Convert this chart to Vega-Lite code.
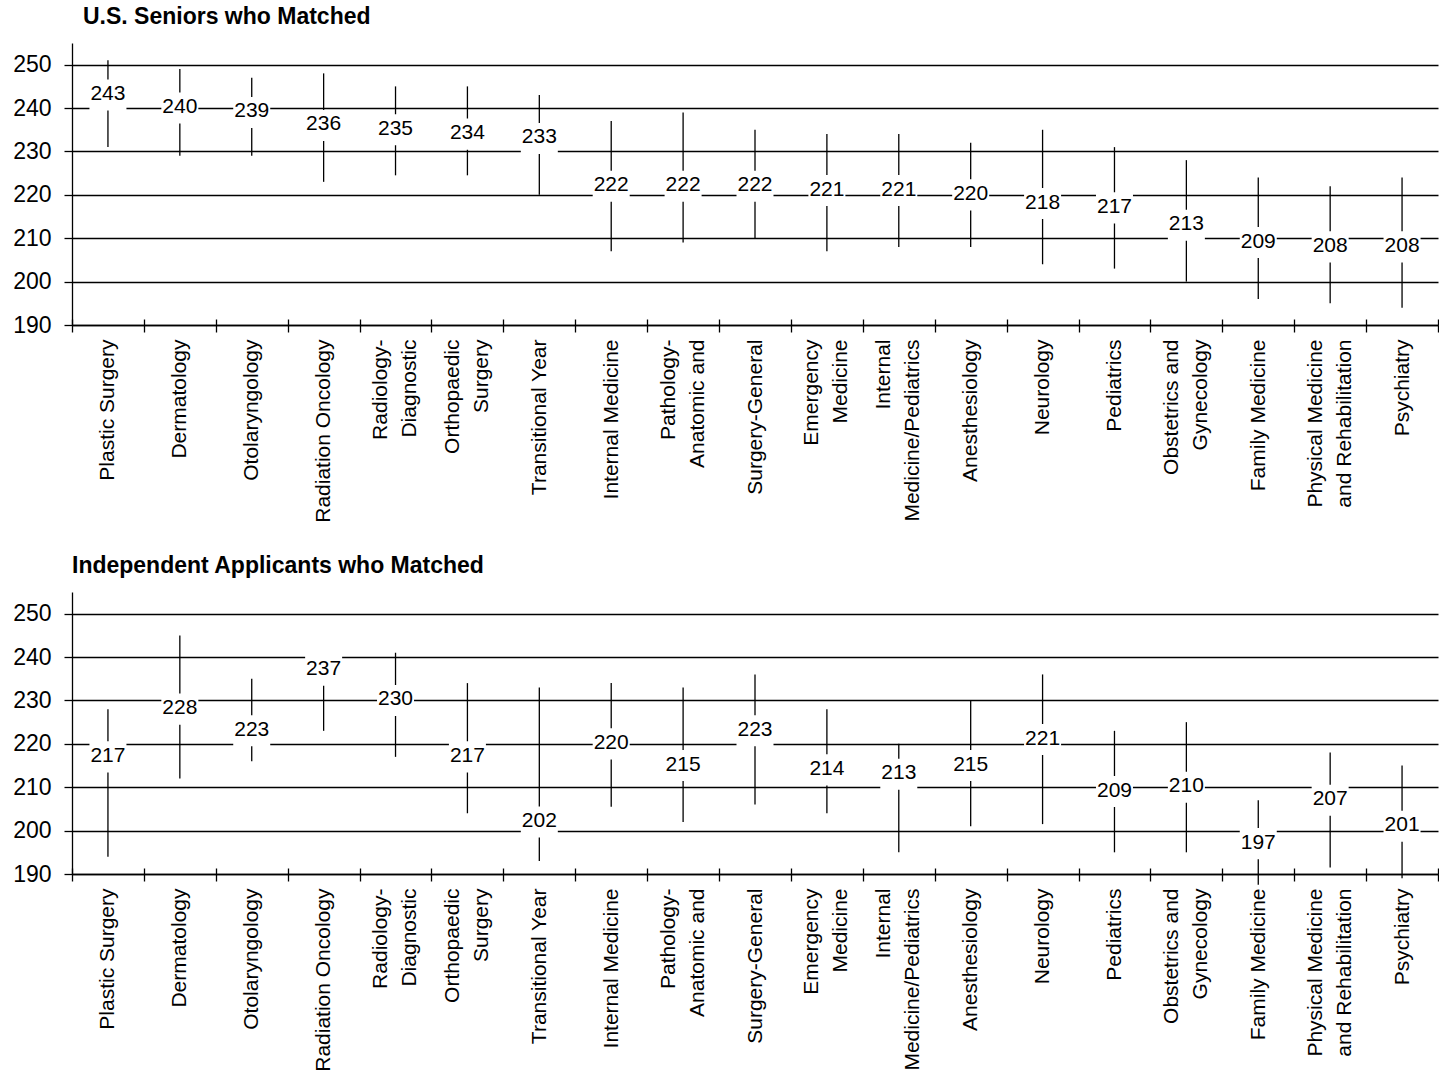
{
  "$schema": "https://vega.github.io/schema/vega-lite/v6.json",
  "padding": {"left": 7, "top": 6, "right": 0, "bottom": 0},
  "background": "white",
  "datasets": {
    "seniors": [
      {"specialty": "Plastic Surgery", "low": 231, "high": 251, "median": 243},
      {"specialty": "Dermatology", "low": 229, "high": 249, "median": 240},
      {"specialty": "Otolaryngology", "low": 229, "high": 247, "median": 239},
      {"specialty": "Radiation Oncology", "low": 223, "high": 248, "median": 236},
      {"specialty": "Radiology-Diagnostic", "low": 224.5, "high": 245, "median": 235},
      {"specialty": "Orthopaedic Surgery", "low": 224.5, "high": 245, "median": 234},
      {"specialty": "Transitional Year", "low": 220, "high": 243, "median": 233},
      {"specialty": "Internal Medicine", "low": 207, "high": 237, "median": 222},
      {"specialty": "Pathology-Anatomic and Clinical", "low": 209, "high": 239, "median": 222},
      {"specialty": "Surgery-General", "low": 210, "high": 235, "median": 222},
      {"specialty": "Emergency Medicine", "low": 207, "high": 234, "median": 221},
      {"specialty": "Internal Medicine/Pediatrics", "low": 208, "high": 234, "median": 221},
      {"specialty": "Anesthesiology", "low": 208, "high": 232, "median": 220},
      {"specialty": "Neurology", "low": 204, "high": 235, "median": 218},
      {"specialty": "Pediatrics", "low": 203, "high": 231, "median": 217},
      {"specialty": "Obstetrics and Gynecology", "low": 200, "high": 228, "median": 213},
      {"specialty": "Family Medicine", "low": 196, "high": 224, "median": 209},
      {"specialty": "Physical Medicine and Rehabilitation", "low": 195, "high": 222, "median": 208},
      {"specialty": "Psychiatry", "low": 194, "high": 224, "median": 208}
    ],
    "independent": [
      {"specialty": "Plastic Surgery", "low": 194, "high": 228, "median": 217},
      {"specialty": "Dermatology", "low": 212, "high": 245, "median": 228},
      {"specialty": "Otolaryngology", "low": 216, "high": 235, "median": 223},
      {"specialty": "Radiation Oncology", "low": 223, "high": 234, "median": 237},
      {"specialty": "Radiology-Diagnostic", "low": 217, "high": 241, "median": 230},
      {"specialty": "Orthopaedic Surgery", "low": 204, "high": 234, "median": 217},
      {"specialty": "Transitional Year", "low": 193, "high": 233, "median": 202},
      {"specialty": "Internal Medicine", "low": 205.5, "high": 234, "median": 220},
      {"specialty": "Pathology-Anatomic and Clinical", "low": 202, "high": 233, "median": 215},
      {"specialty": "Surgery-General", "low": 206, "high": 236, "median": 223},
      {"specialty": "Emergency Medicine", "low": 204, "high": 228, "median": 214},
      {"specialty": "Internal Medicine/Pediatrics", "low": 195, "high": 220, "median": 213},
      {"specialty": "Anesthesiology", "low": 201, "high": 230, "median": 215},
      {"specialty": "Neurology", "low": 201.5, "high": 236, "median": 221},
      {"specialty": "Pediatrics", "low": 195, "high": 223, "median": 209},
      {"specialty": "Obstetrics and Gynecology", "low": 195, "high": 225, "median": 210},
      {"specialty": "Family Medicine", "low": 187.5, "high": 207, "median": 197},
      {"specialty": "Physical Medicine and Rehabilitation", "low": 191.5, "high": 218, "median": 207},
      {"specialty": "Psychiatry", "low": 189, "high": 215, "median": 201}
    ]
  },
  "config": {
    "font": "Liberation Sans",
    "view": {"stroke": null},
    "axis": {
      "domainColor": "#000", "tickColor": "#000", "gridColor": "#000", "labelColor": "#000",
      "domainWidth": 1.3, "tickWidth": 1.3, "gridWidth": 1.3,
      "labelFont": "Liberation Sans"
    },
    "title": {"font": "Liberation Sans", "fontSize": 23, "fontWeight": "bold", "color": "#000", "anchor": "start", "frame": "group", "offset": 14}
  },
  "columns": 1,
  "align": "none",
  "spacing": 32,
  "concat": [
    {
      "width": 1366, "height": 282,
      "title": {"text": "U.S. Seniors who Matched", "dx": 11},
      "data": {"name": "seniors"},
      "resolve": {"axis": {"x": "independent"}},
      "layer": [
        {
          "mark": {"type": "rule", "color": "#000", "strokeWidth": 1.3},
          "encoding": {
            "x": {"field": "specialty", "type": "nominal", "sort": null,
              "scale": {"paddingInner": 0, "paddingOuter": 0},
              "axis": {"title": null, "labelAngle": -90, "labelAlign": "right", "labelBaseline": "middle",
                "labelFontSize": 21, "labelLineHeight": 29, "labelPadding": 7, "labelLimit": 400,
                "labelOverlap": false, "tickSize": 7, "tickBand": "extent", "grid": false,
                "labelExpr": "indexof(['Radiology-Diagnostic','Orthopaedic Surgery','Pathology-Anatomic and Clinical','Emergency Medicine','Internal Medicine/Pediatrics','Obstetrics and Gynecology','Physical Medicine and Rehabilitation'], datum.label) >= 0 ? '' : datum.label"}},
            "y": {"field": "low", "type": "quantitative", "title": null,
              "scale": {"domain": [190, 255], "nice": false, "zero": false},
              "axis": {"title": null, "values": [190, 200, 210, 220, 230, 240, 250], "grid": true,
                "tickSize": 8, "labelPadding": 13, "labelFontSize": 23, "minExtent": 65}},
            "y2": {"field": "high"}
          }
        },
        {
          "mark": {"type": "point", "shape": "M-1,-0.84L1,-0.84L1,0.84L-1,0.84Z", "size": 1369, "filled": true, "fill": "#ffffff", "opacity": 1, "strokeWidth": 0},
          "encoding": {
            "x": {"field": "specialty", "type": "nominal", "sort": null,
              "axis": {"orient": "bottom", "title": null, "labels": false, "domain": false, "grid": false, "tickSize": -6, "tickBand": "extent"}},
            "y": {"field": "median", "type": "quantitative", "title": null,
              "axis": {"title": null, "values": [190, 200, 210, 220, 230, 240, 250], "grid": true,
                "tickSize": 8, "labelPadding": 13, "labelFontSize": 23, "minExtent": 65}}
          }
        },
        {
          "mark": {"type": "text", "fontSize": 21, "color": "#000", "baseline": "middle", "dy": -1},
          "encoding": {
            "x": {"field": "specialty", "type": "nominal", "sort": null,
              "axis": {"orient": "bottom", "title": null, "domain": false, "grid": false, "tickSize": 7, "tickOpacity": 0,
                "labelAngle": -90, "labelAlign": "right", "labelBaseline": "middle", "labelOffset": -14.5,
                "labelFontSize": 21, "labelLineHeight": 29, "labelPadding": 7, "labelLimit": 400, "labelOverlap": false,
                "labelExpr": "({'Radiology-Diagnostic':['Radiology-','Diagnostic'],'Orthopaedic Surgery':['Orthopaedic','Surgery'],'Pathology-Anatomic and Clinical':['Pathology-','Anatomic and'],'Emergency Medicine':['Emergency','Medicine'],'Internal Medicine/Pediatrics':['Internal','Medicine/Pediatrics'],'Obstetrics and Gynecology':['Obstetrics and','Gynecology'],'Physical Medicine and Rehabilitation':['Physical Medicine','and Rehabilitation']})[datum.label] || ''"}},
            "y": {"field": "median", "type": "quantitative", "title": null,
              "axis": {"title": null, "values": [190, 200, 210, 220, 230, 240, 250], "grid": true,
                "tickSize": 8, "labelPadding": 13, "labelFontSize": 23, "minExtent": 65}},
            "text": {"field": "median", "type": "quantitative"}
          }
        }
      ]
    },
    {
      "width": 1366, "height": 282,
      "title": {"text": "Independent Applicants who Matched", "dx": 0},
      "data": {"name": "independent"},
      "resolve": {"axis": {"x": "independent"}},
      "layer": [
        {
          "mark": {"type": "rule", "color": "#000", "strokeWidth": 1.3},
          "encoding": {
            "x": {"field": "specialty", "type": "nominal", "sort": null,
              "scale": {"paddingInner": 0, "paddingOuter": 0},
              "axis": {"title": null, "labelAngle": -90, "labelAlign": "right", "labelBaseline": "middle",
                "labelFontSize": 21, "labelLineHeight": 29, "labelPadding": 7, "labelLimit": 400,
                "labelOverlap": false, "tickSize": 7, "tickBand": "extent", "grid": false,
                "labelExpr": "indexof(['Radiology-Diagnostic','Orthopaedic Surgery','Pathology-Anatomic and Clinical','Emergency Medicine','Internal Medicine/Pediatrics','Obstetrics and Gynecology','Physical Medicine and Rehabilitation'], datum.label) >= 0 ? '' : datum.label"}},
            "y": {"field": "low", "type": "quantitative", "title": null,
              "scale": {"domain": [190, 255], "nice": false, "zero": false},
              "axis": {"title": null, "values": [190, 200, 210, 220, 230, 240, 250], "grid": true,
                "tickSize": 8, "labelPadding": 13, "labelFontSize": 23}},
            "y2": {"field": "high"}
          }
        },
        {
          "mark": {"type": "point", "shape": "M-1,-0.84L1,-0.84L1,0.84L-1,0.84Z", "size": 1369, "filled": true, "fill": "#ffffff", "opacity": 1, "strokeWidth": 0},
          "encoding": {
            "x": {"field": "specialty", "type": "nominal", "sort": null,
              "axis": {"orient": "bottom", "title": null, "labels": false, "domain": false, "grid": false, "tickSize": -6, "tickBand": "extent"}},
            "y": {"field": "median", "type": "quantitative", "title": null,
              "axis": {"title": null, "values": [190, 200, 210, 220, 230, 240, 250], "grid": true,
                "tickSize": 8, "labelPadding": 13, "labelFontSize": 23}}
          }
        },
        {
          "mark": {"type": "text", "fontSize": 21, "color": "#000", "baseline": "middle", "dy": -1},
          "encoding": {
            "x": {"field": "specialty", "type": "nominal", "sort": null,
              "axis": {"orient": "bottom", "title": null, "domain": false, "grid": false, "tickSize": 7, "tickOpacity": 0,
                "labelAngle": -90, "labelAlign": "right", "labelBaseline": "middle", "labelOffset": -14.5,
                "labelFontSize": 21, "labelLineHeight": 29, "labelPadding": 7, "labelLimit": 400, "labelOverlap": false,
                "labelExpr": "({'Radiology-Diagnostic':['Radiology-','Diagnostic'],'Orthopaedic Surgery':['Orthopaedic','Surgery'],'Pathology-Anatomic and Clinical':['Pathology-','Anatomic and'],'Emergency Medicine':['Emergency','Medicine'],'Internal Medicine/Pediatrics':['Internal','Medicine/Pediatrics'],'Obstetrics and Gynecology':['Obstetrics and','Gynecology'],'Physical Medicine and Rehabilitation':['Physical Medicine','and Rehabilitation']})[datum.label] || ''"}},
            "y": {"field": "median", "type": "quantitative", "title": null,
              "axis": {"title": null, "values": [190, 200, 210, 220, 230, 240, 250], "grid": true,
                "tickSize": 8, "labelPadding": 13, "labelFontSize": 23}},
            "text": {"field": "median", "type": "quantitative"}
          }
        }
      ]
    }
  ]
}
